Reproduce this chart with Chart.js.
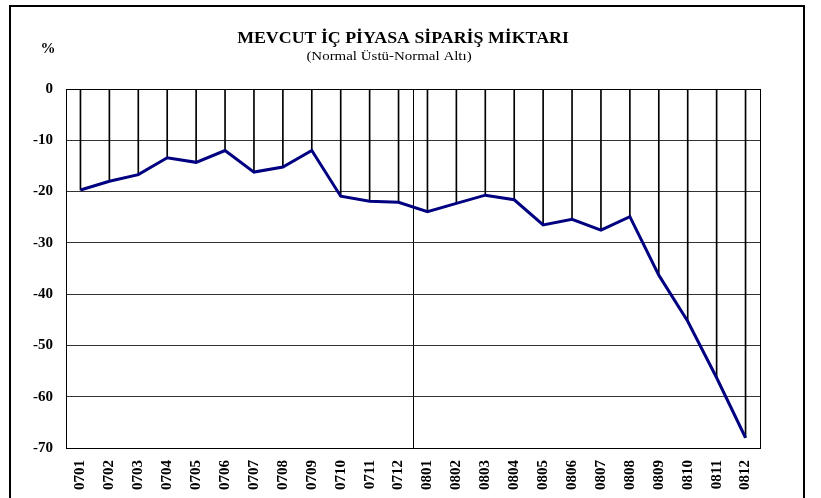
<!DOCTYPE html>
<html>
<head>
<meta charset="utf-8">
<script src="https://cdn.jsdelivr.net/npm/chart.js@4/dist/chart.umd.min.js"></script>
<style>
  html, body { margin: 0; padding: 0; background: #fff; }
  #wrap { position: relative; width: 821px; height: 498px; overflow: hidden; }
  #c { position: absolute; left: 0; top: 0; }
  #frame { position: absolute; left: 9px; top: 5px; width: 792px; height: 600px; border: 2px solid #000; pointer-events: none; }
</style>
</head>
<body>
<div id="wrap">
  <canvas id="c" width="821" height="498"></canvas>
  <div id="frame"></div>
</div>
<script>
const categories = ["0701","0702","0703","0704","0705","0706","0707","0708","0709","0710","0711","0712",
                    "0801","0802","0803","0804","0805","0806","0807","0808","0809","0810","0811","0812"];
const seriesValues = [-19.7,-18.0,-16.7,-13.4,-14.3,-12.0,-16.2,-15.2,-12.0,-20.9,-21.9,-22.1,
                      -23.9,-22.3,-20.7,-21.6,-26.5,-25.4,-27.5,-24.9,-36.3,-45.3,-56.3,-68.0];
const yTicks = [0,-10,-20,-30,-40,-50,-60,-70];
const titleText = "MEVCUT İÇ PİYASA SİPARİŞ MİKTARI";
const subtitleText = "(Normal Üstü-Normal Altı)";
const unitText = "%";

const SERIF = "'Liberation Serif', 'Times New Roman', serif";

function stretchedText(ctx, text, cx, baseline, font, sx) {
  ctx.save();
  ctx.font = font;
  ctx.translate(cx, baseline);
  ctx.scale(sx, 1);
  ctx.fillText(text, 0, 0);
  ctx.restore();
}

const textPlugin = {
  id: 'texts',
  afterDraw(chart) {
    const ctx = chart.ctx;
    ctx.save();
    const a = chart.chartArea;
    ctx.strokeStyle = '#000';
    ctx.lineWidth = 1;
    ctx.strokeRect(Math.round(a.left) + 0.5, Math.round(a.top) + 0.5, Math.round(a.right - a.left), Math.round(a.bottom - a.top));
    ctx.fillStyle = '#000';
    ctx.textAlign = 'center';
    ctx.textBaseline = 'alphabetic';
    stretchedText(ctx, titleText, 403, 43, "bold 16px " + SERIF, 1.115);
    stretchedText(ctx, subtitleText, 389, 59.5, "13px " + SERIF, 1.15);
    stretchedText(ctx, unitText, 48, 53, "bold 15px " + SERIF, 1.0);
    ctx.restore();
  }
};

new Chart(document.getElementById('c'), {
  type: 'bar',
  data: {
    labels: categories,
    datasets: [
      {
        type: 'line',
        data: seriesValues,
        borderColor: '#000080',
        borderWidth: 3,
        pointRadius: 0,
        tension: 0,
        order: 0
      },
      {
        type: 'bar',
        data: seriesValues,
        backgroundColor: '#000',
        borderWidth: 0,
        barThickness: 1,
        order: 1
      }
    ]
  },
  options: {
    responsive: false,
    animation: false,
    events: [],
    layout: { padding: { left: 0, right: 61, top: 89, bottom: 0 } },
    plugins: { legend: { display: false }, tooltip: { enabled: false }, title: { display: false } },
    scales: {
      x: {
        offset: true,
        afterFit(s) { s.height = 50; },
        grid: {
          offset: true,
          drawTicks: false,
          color: (ctx) => ctx.index === 12 ? '#000' : 'rgba(0,0,0,0)',
          lineWidth: 1
        },
        border: { display: true, color: '#000', width: 1 },
        ticks: {
          autoSkip: false,
          minRotation: 90,
          maxRotation: 90,
          padding: 12,
          color: '#000',
          font: { family: SERIF, size: 15, weight: 'bold' }
        }
      },
      y: {
        min: -70,
        max: 0,
        afterFit(s) { s.width = 66; },
        afterBuildTicks(s) { s.ticks = yTicks.map(v => ({ value: v })); },
        grid: { drawTicks: false, color: '#333', lineWidth: 1 },
        border: { display: true, color: '#000', width: 1 },
        ticks: {
          stepSize: 10,
          padding: 13,
          color: '#000',
          font: { family: SERIF, size: 15, weight: 'bold' }
        }
      }
    }
  },
  plugins: [textPlugin]
});
</script>
</body>
</html>
